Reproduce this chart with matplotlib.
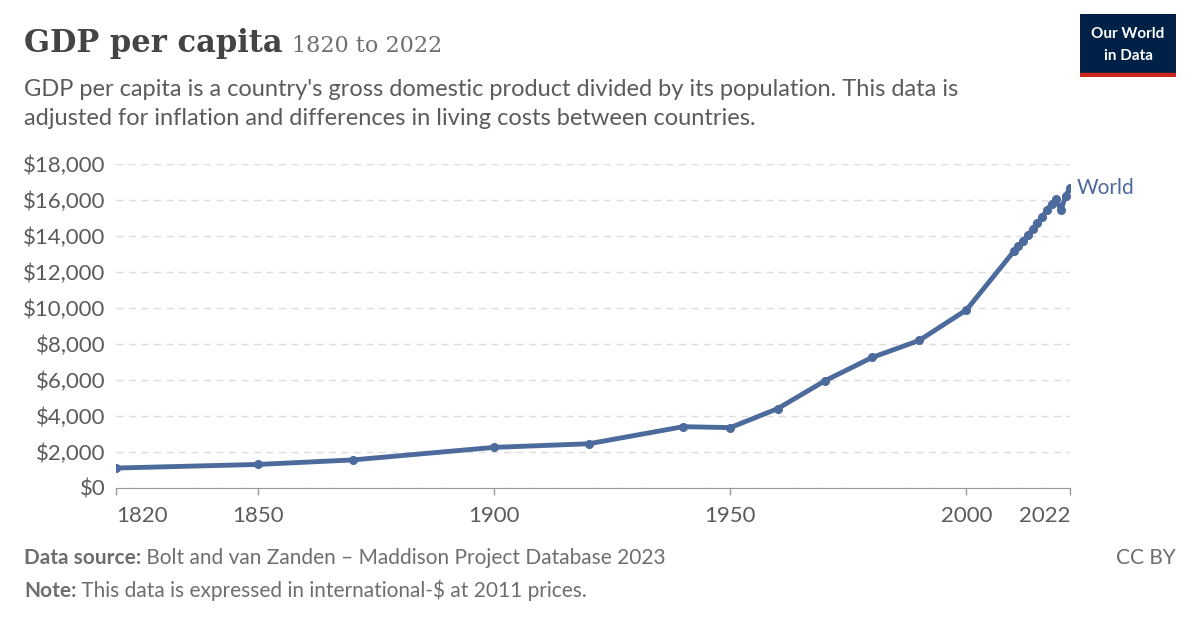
import matplotlib.pyplot as plt
from matplotlib.ticker import FuncFormatter

YEARS = [1820, 1850, 1870, 1900, 1920, 1940, 1950, 1960, 1970, 1980, 1990, 2000,
         2010, 2011, 2012, 2013, 2014, 2015, 2016, 2017, 2018, 2019, 2020, 2021, 2022]
GDP = [1100, 1300, 1550, 2250, 2450, 3400, 3350, 4400, 5950, 7250, 8200, 9900,
       13150, 13450, 13750, 14050, 14400, 14750, 15050, 15450, 15800, 16050, 15450, 16250, 16700]
XTICKS = [1820, 1850, 1900, 1950, 2000, 2022]
YTICKS = list(range(0, 18001, 2000))

BLUE = "#4c6a9c"
GREY = "#5b5b5b"
plt.rcParams['font.family'] = ['Lato', 'DejaVu Sans']

fig = plt.figure(figsize=(12, 6.27), dpi=100)
ax = fig.add_axes([0.097, 0.222, 0.795, 0.516])
ax.plot(YEARS, GDP, color=BLUE, lw=3.5, marker='o', ms=5.5, solid_capstyle='round')
ax.text(2022 + 1.3, 16700, "World", color=BLUE, fontsize=15, va='center', ha='left')

ax.set_xlim(1820, 2022)
ax.set_ylim(0, 18000)
ax.set_xticks(XTICKS)
ax.set_yticks(YTICKS)
ax.yaxis.set_major_formatter(FuncFormatter(lambda v, p: f"${int(v):,}"))
ax.tick_params(axis='both', labelsize=16, colors=GREY, length=0, pad=8)
ax.tick_params(axis='x', length=5, color='#999999', width=1)
ax.grid(axis='y', ls=(0, (5, 4)), color='#dddddd', lw=1)
for s in ['top', 'right', 'left']:
    ax.spines[s].set_visible(False)
ax.spines['bottom'].set_color('#999999')
ax.set_axisbelow(True)
xl = ax.get_xticklabels()
xl[0].set_ha('left')
xl[-1].set_ha('right')

fig.canvas.draw()
r = fig.canvas.get_renderer()
W = fig.bbox.width

t = fig.text(0.02, 0.917, "GDP per capita", fontsize=22, family=['DejaVu Serif'],
             color='#444444', weight='bold', va='baseline')
bb = t.get_window_extent(r)
fig.text(bb.x1 / W + 0.008, 0.917, "1820 to 2022", fontsize=16, family=['DejaVu Serif'],
         color='#6e6e6e', va='baseline')
fig.text(0.02, 0.847, "GDP per capita is a country's gross domestic product divided by its population. This data is",
         fontsize=17, color=GREY)
fig.text(0.02, 0.800, "adjusted for inflation and differences in living costs between countries.",
         fontsize=17, color=GREY)

for y, bold, rest in [(0.100, "Data source:", " Bolt and van Zanden – Maddison Project Database 2023"),
                      (0.048, "Note:", " This data is expressed in international-$ at 2011 prices.")]:
    t = fig.text(0.02, y, bold, fontsize=15, color='#6e6e6e', weight='bold')
    bb = t.get_window_extent(r)
    fig.text(bb.x1 / W, y, rest, fontsize=15, color='#6e6e6e')
fig.text(0.98, 0.100, "CC BY", fontsize=15, color='#6e6e6e', ha='right')

lax = fig.add_axes([0.9, 0.877, 0.08, 0.1])
lax.set_xlim(0, 1); lax.set_ylim(0, 1); lax.axis('off')
lax.add_patch(plt.Rectangle((0, 0.06), 1, 0.94, color='#002147'))
lax.add_patch(plt.Rectangle((0, 0), 1, 0.06, color='#ce261e'))
lax.text(0.5, 0.68, "Our World", color='white', fontsize=11, weight='bold', ha='center', va='center')
lax.text(0.5, 0.33, "in Data", color='white', fontsize=11, weight='bold', ha='center', va='center')

fig.savefig("out.png", dpi=100)
